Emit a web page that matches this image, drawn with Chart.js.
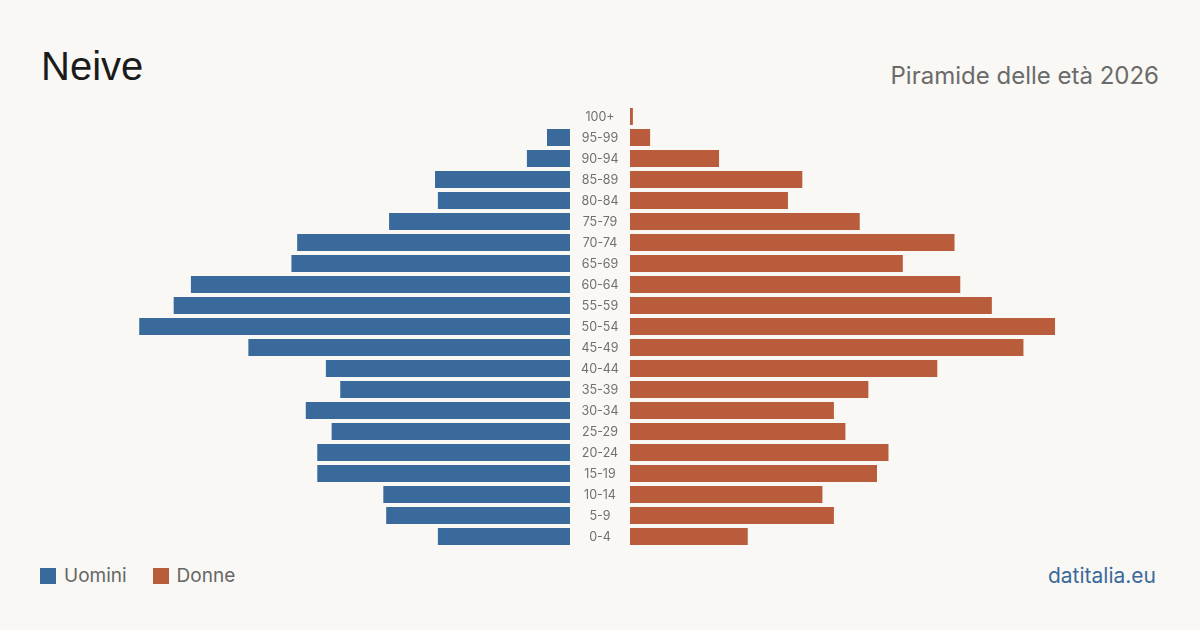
<!DOCTYPE html>
<html lang="it">
<head>
<meta charset="utf-8">
<title>Neive - Piramide delle età 2026</title>
<script src="https://cdn.jsdelivr.net/npm/chart.js@4/dist/chart.umd.min.js"></script>
<style>
  html, body { margin: 0; padding: 0; }
  body {
    width: 1200px; height: 630px; overflow: hidden;
    background: #f9f8f4;
    font-family: Inter, "Noto Sans", sans-serif;
    position: relative;
  }
  #title {
    position: absolute; left: 41px; top: 41px;
    font-family: "Liberation Sans", Arial, sans-serif;
    font-size: 40px; color: #1b1b1b; font-weight: 400; line-height: 50px;
  }
  #subtitle {
    position: absolute; right: 41px; top: 60px;
    font-size: 24px; color: #6b6b6b; line-height: 32px;
  }
  #wrap {
    position: absolute; left: 40px; top: 106px; width: 1120px; height: 441px;
  }
  #legend {
    position: absolute; left: 40px; top: 564px;
    font-size: 19px; color: #666; display: flex; line-height: 24px;
  }
  .item { display: flex; align-items: center; margin-right: 26px; }
  .sw { width: 16px; height: 16px; margin-right: 8px; }
  #brand {
    position: absolute; right: 44px; top: 562px;
    font-size: 21px; color: #3a6a9b; line-height: 28px;
  }
</style>
</head>
<body>
<div id="title">Neive</div>
<div id="subtitle">Piramide delle età 2026</div>
<div id="wrap"><canvas id="chartPyr"></canvas></div>
<div id="legend">
  <div class="item"><span class="sw" style="background:#3a6a9b"></span>Uomini</div>
  <div class="item"><span class="sw" style="background:#b95c3b"></span>Donne</div>
</div>
<div id="brand">datitalia.eu</div>

<script>
const ageGroups = ["100+", "95-99", "90-94", "85-89", "80-84", "75-79", "70-74", "65-69",
  "60-64", "55-59", "50-54", "45-49", "40-44", "35-39", "30-34", "25-29",
  "20-24", "15-19", "10-14", "5-9", "0-4"];
const men   = [0, 8, 15, 47, 46, 63, 95, 97, 132, 138, 150, 112, 85, 80, 92, 83, 88, 88, 65, 64, 46];
const women = [1, 7, 31, 60, 55, 80, 113, 95, 115, 126, 148, 137, 107, 83, 71, 75, 90, 86, 67, 71, 41];

const BLUE = "#3a6a9b";
const ORANGE = "#b95c3b";
const HALF_RANGE = 195;   // axis runs -195..195
const GAP = 10.45;        // half the empty middle column, in axis units

// floating bars: men to the left of the gap, women to the right
const menBars = men.map(v => [-GAP - v, -GAP]);
const womenBars = women.map(v => [GAP, GAP + v]);

const centerLabels = {
  id: "centerLabels",
  afterDatasetsDraw(chart) {
    const { ctx, scales } = chart;
    const cx = scales.x.getPixelForValue(0);
    ctx.save();
    ctx.font = "12.5px Inter, 'Noto Sans', sans-serif";
    ctx.fillStyle = "#707070";
    ctx.textAlign = "center";
    ctx.textBaseline = "middle";
    ageGroups.forEach((g, i) => {
      ctx.fillText(g, cx, scales.y.getPixelForValue(i) + 0.5);
    });
    ctx.restore();
  }
};

new Chart(document.getElementById("chartPyr"), {
  type: "bar",
  data: {
    labels: ageGroups,
    datasets: [
      { label: "Uomini", data: menBars, backgroundColor: BLUE, grouped: false },
      { label: "Donne", data: womenBars, backgroundColor: ORANGE, grouped: false }
    ]
  },
  options: {
    indexAxis: "y",
    responsive: true,
    maintainAspectRatio: false,
    animation: false,
    layout: { padding: 0 },
    datasets: { bar: { categoryPercentage: 1, barPercentage: 0.81, borderWidth: 0 } },
    scales: {
      x: { display: false, min: -HALF_RANGE, max: HALF_RANGE },
      y: { display: false }
    },
    plugins: {
      legend: { display: false },
      tooltip: { enabled: false }
    }
  },
  plugins: [centerLabels]
});
</script>
</body>
</html>
